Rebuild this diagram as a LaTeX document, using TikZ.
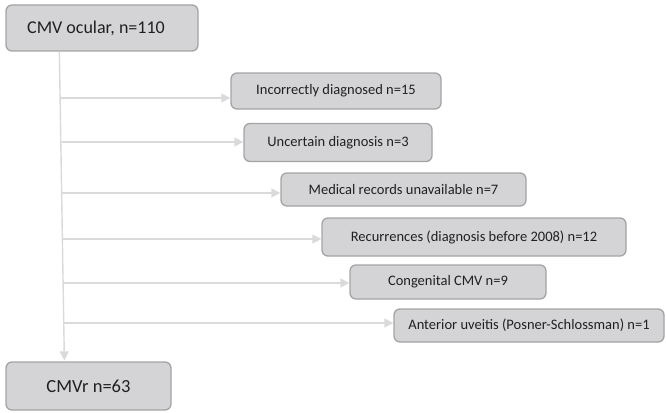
\documentclass[tikz,border=0pt]{standalone}
\usepackage{fontspec}
\setmainfont{Carlito}
\usetikzlibrary{arrows.meta,calc}
\definecolor{boxfill}{HTML}{D4D4D6}
\definecolor{boxline}{HTML}{A4A4A6}
\definecolor{linecol}{HTML}{DADADA}
\definecolor{txt}{HTML}{202020}
\tikzset{
  fbox/.style={draw=boxline, fill=boxfill, rounded corners=6pt, line width=1.3pt,
    text=txt, inner sep=0pt, font=\fontsize{14.5}{17}\selectfont},
  bigbox/.style={fbox, font=\fontsize{18}{22}\selectfont},
  conn/.style={draw=linecol, line width=1.4pt, -{Triangle[length=9pt,width=9pt,fill=linecol]}}
}
\begin{document}
\begin{tikzpicture}[x=1pt,y=-1pt]
\useasboundingbox (0,0) rectangle (666,412);
\node[bigbox, minimum width=192pt, minimum height=46pt] (top) at (102,28) {\hspace*{-12pt}CMV ocular, n=110};
\node[bigbox, minimum width=165pt, minimum height=48pt, font=\fontsize{18.5}{22}\selectfont] (bot) at (88.5,386) {CMVr n=63};
\node[fbox, minimum width=210pt, minimum height=36pt] (b1) at (336,91) {Incorrectly diagnosed n=15};
\node[fbox, minimum width=188pt, minimum height=38pt] (b2) at (338,142.5) {Uncertain diagnosis n=3};
\node[fbox, minimum width=245pt, minimum height=33pt] (b3) at (403.5,189.5) {Medical records unavailable n=7};
\node[fbox, minimum width=304pt, minimum height=38pt] (b4) at (474,237) {Recurrences (diagnosis before 2008) n=12};
\node[fbox, minimum width=196pt, minimum height=34pt] (b5) at (448,282) {Congenital CMV n=9};
\node[fbox, minimum width=270pt, minimum height=33pt] (b6) at (529,325.5) {Anterior uveitis (Posner-Schlossman) n=1};
\coordinate (vs) at ($(top.south west)+(54,0)$);
\coordinate (ve) at ($(bot.north west)+(59,-1)$);
\draw[conn] (vs) -- (ve);
\coordinate (h1) at (60.8,98);
\coordinate (h2) at (61.5,142);
\coordinate (h3) at (62.3,193);
\coordinate (h4) at (63.0,239);
\coordinate (h5) at (63.8,283);
\coordinate (h6) at (64.4,323);
\draw[conn] (h1) -- (b1.west |- h1);
\draw[conn] (h2) -- (b2.west |- h2);
\draw[conn] (h3) -- (b3.west |- h3);
\draw[conn] (h4) -- (b4.west |- h4);
\draw[conn] (h5) -- (b5.west |- h5);
\draw[conn] (h6) -- (b6.west |- h6);
\end{tikzpicture}
\end{document}
